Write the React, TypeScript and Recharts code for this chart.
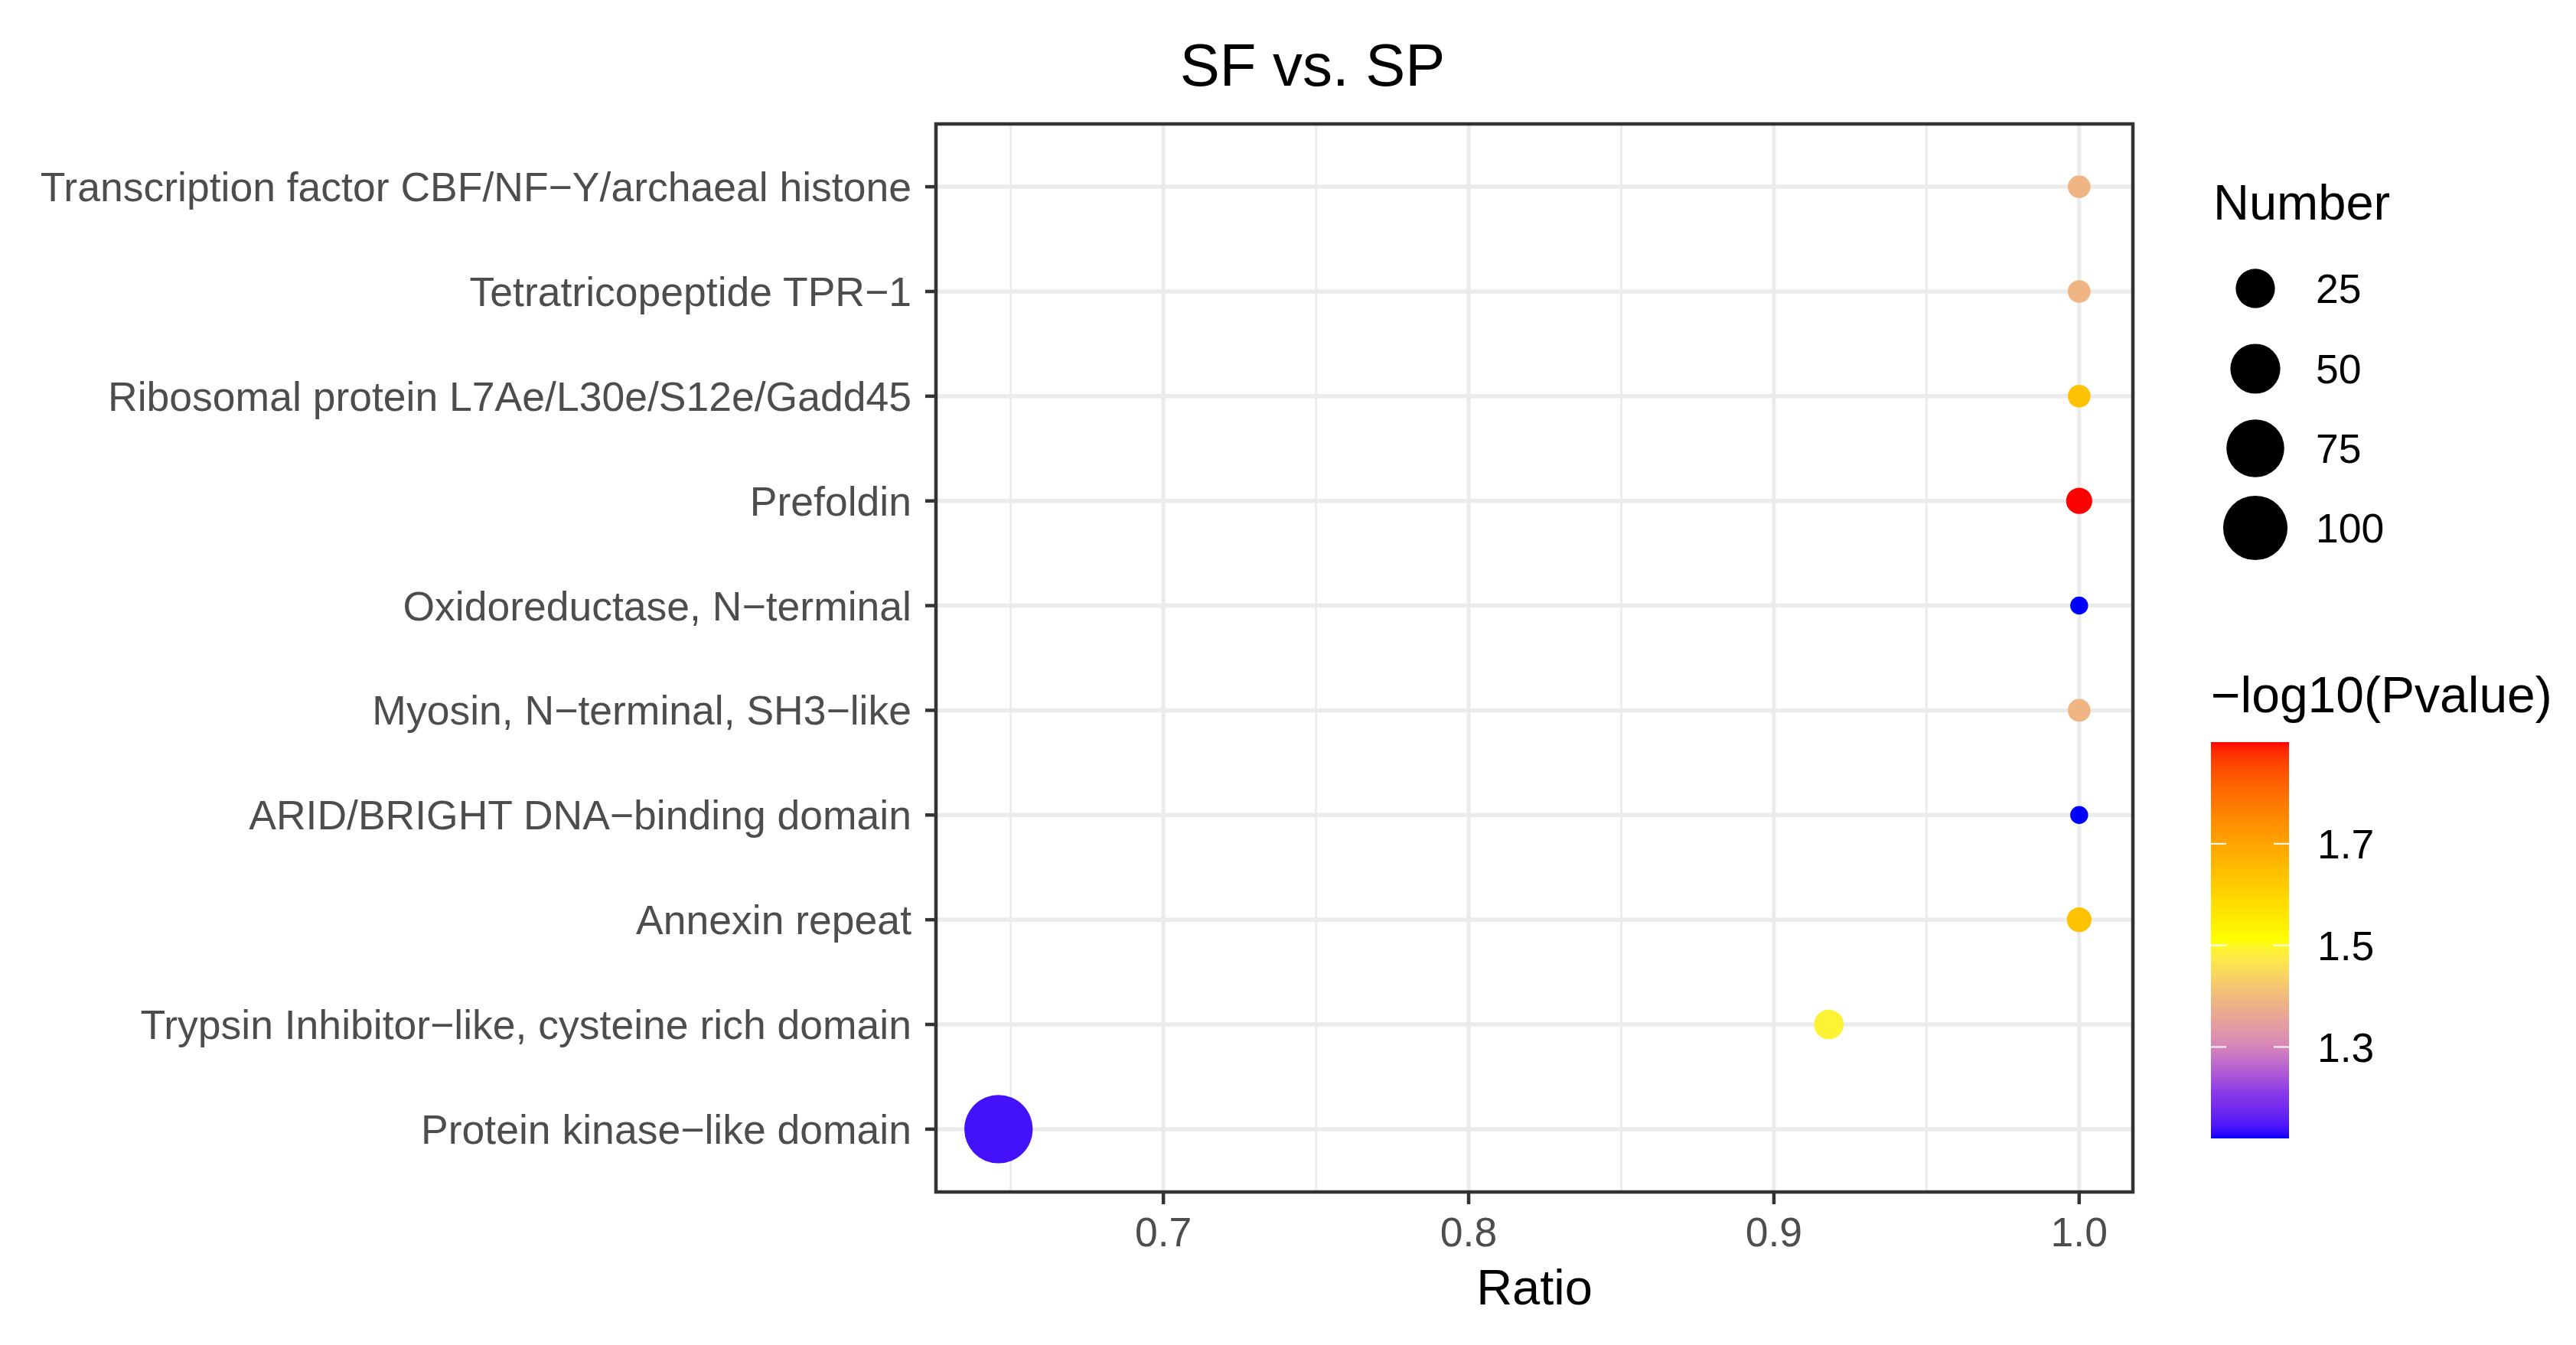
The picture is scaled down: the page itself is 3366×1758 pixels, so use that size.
import React from 'react';
import { ScatterChart, Scatter, XAxis, YAxis, CartesianGrid, ReferenceArea } from 'recharts';

// ---- data (bottom to top, as ggplot orders a discrete y axis) ----
const terms = [
  'Protein kinase\u2212like domain',
  'Trypsin Inhibitor\u2212like, cysteine rich domain',
  'Annexin repeat',
  'ARID/BRIGHT DNA\u2212binding domain',
  'Myosin, N\u2212terminal, SH3\u2212like',
  'Oxidoreductase, N\u2212terminal',
  'Prefoldin',
  'Ribosomal protein L7Ae/L30e/S12e/Gadd45',
  'Tetratricopeptide TPR\u22121',
  'Transcription factor CBF/NF\u2212Y/archaeal histone',
];
const ratios = [0.646, 0.918, 1.0, 1.0, 1.0, 1.0, 1.0, 1.0, 1.0, 1.0];
const numbers = [117, 11, 7, 5, 6, 5, 8, 6, 6, 6];
const pvalues = [1.14, 1.49, 1.64, 1.12, 1.39, 1.12, 1.9, 1.64, 1.39, 1.39];

const xDomain = [0.6255, 1.0176];
const xTicks = [0.7, 0.8, 0.9, 1.0];
const xMinorTicks = [0.65, 0.75, 0.85, 0.95];
const sizeLegendValues = [25, 50, 75, 100];
const colorLegendTicks = [1.3, 1.5, 1.7];
// colour ramp stops (position in 0..1 of the -log10(P) range, colour)
const paletteStops = [0, 0.12, 0.24, 0.345, 0.5, 1];
const paletteColors = ['#0000FF', '#8C3CE6', '#D98AB6', '#EFB482', '#FFFF00', '#FF0000'];

const rows = terms.map((t, i) => ({ idx: i, term: t, ratio: ratios[i], number: numbers[i], pvalue: pvalues[i] }));

// ---- scales (ggplot-like) ----
const W = 3366;
const H = 1758;
const FONT = '"Liberation Sans", Arial, Helvetica, sans-serif';

const nMin = Math.min(...numbers);
const nMax = Math.max(...numbers);
const RAD_MIN = 11.7;
const RAD_MAX = 44.7;
const radiusOf = (n: number) => RAD_MIN + (RAD_MAX - RAD_MIN) * Math.sqrt(Math.max(0, (n - nMin) / (nMax - nMin)));

const pMin = Math.min(...pvalues);
const pMax = Math.max(...pvalues);

function toLin(c: number) { c /= 255; return c <= 0.04045 ? c / 12.92 : Math.pow((c + 0.055) / 1.055, 2.4); }
function fromLin(c: number) {
  const v = c <= 0.0031308 ? 12.92 * c : 1.055 * Math.pow(c, 1 / 2.4) - 0.055;
  return Math.round(Math.max(0, Math.min(1, v)) * 255);
}
function hexToLab(hex: string) {
  const r = toLin(parseInt(hex.slice(1, 3), 16));
  const g = toLin(parseInt(hex.slice(3, 5), 16));
  const b = toLin(parseInt(hex.slice(5, 7), 16));
  const X = (0.4124564 * r + 0.3575761 * g + 0.1804375 * b) / 0.95047;
  const Y = 0.2126729 * r + 0.7151522 * g + 0.072175 * b;
  const Z = (0.0193339 * r + 0.119192 * g + 0.9503041 * b) / 1.08883;
  const f = (t: number) => (t > 0.008856 ? Math.cbrt(t) : 7.787 * t + 16 / 116);
  const fx = f(X), fy = f(Y), fz = f(Z);
  return [116 * fy - 16, 500 * (fx - fy), 200 * (fy - fz)];
}
function labToHex(L: number, a: number, b: number) {
  const fy = (L + 16) / 116;
  const fx = fy + a / 500;
  const fz = fy - b / 200;
  const inv = (t: number) => (t * t * t > 0.008856 ? t * t * t : (t - 16 / 116) / 7.787);
  const X = inv(fx) * 0.95047, Y = inv(fy), Z = inv(fz) * 1.08883;
  const r = 3.2404542 * X - 1.5371385 * Y - 0.4985314 * Z;
  const g = -0.969266 * X + 1.8760108 * Y + 0.041556 * Z;
  const bb = 0.0556434 * X - 0.2040259 * Y + 1.0572252 * Z;
  const h = (v: number) => fromLin(v).toString(16).padStart(2, '0');
  return '#' + h(r) + h(g) + h(bb);
}
const paletteLab = paletteColors.map(hexToLab);
function colorAt(t: number) {
  const tt = Math.max(0, Math.min(1, t));
  let seg = 0;
  while (seg < paletteStops.length - 2 && tt > paletteStops[seg + 1]) seg++;
  const s = (tt - paletteStops[seg]) / (paletteStops[seg + 1] - paletteStops[seg]);
  const a = paletteLab[seg], b = paletteLab[seg + 1];
  return labToHex(a[0] + (b[0] - a[0]) * s, a[1] + (b[1] - a[1]) * s, a[2] + (b[2] - a[2]) * s);
}
const colorOf = (p: number) => colorAt((p - pMin) / (pMax - pMin));

// ---- plot geometry ----
const PANEL_LEFT = 1223;
const PANEL_TOP = 162;
const PANEL_RIGHT = 2787;
const PANEL_BOTTOM = 1558;

const DotShape = (props: any) => {
  const { cx, cy, payload } = props;
  if (cx == null || cy == null) return null;
  return <circle cx={cx} cy={cy} r={radiusOf(payload.number)} fill={colorOf(payload.pvalue)} />;
};

const yTicks = terms.map((_, i) => i);

// colour bar geometry
const CB_X = 2889;
const CB_W = 102;
const CB_TOP = 970;
const CB_BOTTOM = 1488;
const cbY = (v: number) => CB_BOTTOM - ((v - pMin) / (pMax - pMin)) * (CB_BOTTOM - CB_TOP);
const gradStops = Array.from({ length: 101 }, (_, i) => i / 100);

const sizeLegendY = [377, 482, 586, 690];
const AXIS_FONT = 53.5;

export default function App() {
  return (
    <div style={{ position: 'absolute', left: 0, top: 0, width: W, height: H, background: '#fff', fontFamily: FONT }}>
      <ScatterChart width={W} height={H} margin={{ top: PANEL_TOP, right: W - PANEL_RIGHT, bottom: 0, left: 0 }}>
        <CartesianGrid horizontal={false} verticalValues={xMinorTicks} stroke="#EBEBEB" strokeWidth={2.7} />
        <CartesianGrid horizontal={false} verticalValues={xTicks} stroke="#EBEBEB" strokeWidth={5} />
        <CartesianGrid vertical={false} horizontalValues={yTicks} stroke="#EBEBEB" strokeWidth={5.5} />
        <XAxis
          type="number"
          dataKey="ratio"
          domain={xDomain}
          ticks={xTicks}
          allowDataOverflow
          tickFormatter={(v: number) => v.toFixed(1)}
          height={H - PANEL_BOTTOM}
          axisLine={false}
          tickSize={16}
          tickMargin={17}
          tickLine={{ stroke: '#333333', strokeWidth: 4.5 }}
          tick={{ fontSize: AXIS_FONT, fill: '#4D4D4D', fontFamily: FONT }}
          interval={0}
        />
        <YAxis
          type="number"
          dataKey="idx"
          domain={[-0.6, terms.length - 1 + 0.6]}
          ticks={yTicks}
          allowDataOverflow
          tickFormatter={(i: number) => terms[i]}
          width={PANEL_LEFT}
          axisLine={false}
          tickSize={14}
          tickMargin={18}
          tickLine={{ stroke: '#333333', strokeWidth: 4.5 }}
          tick={{ fontSize: AXIS_FONT, fill: '#4D4D4D', fontFamily: FONT }}
          interval={0}
        />
        <Scatter data={rows} shape={DotShape} isAnimationActive={false} />
        <ReferenceArea
          x1={xDomain[0]}
          x2={xDomain[1]}
          y1={-0.6}
          y2={terms.length - 1 + 0.6}
          fill="none"
          fillOpacity={0}
          stroke="#333333"
          strokeWidth={4.5}
          ifOverflow="visible"
        />
      </ScatterChart>
      <svg width={W} height={H} style={{ position: 'absolute', left: 0, top: 0, pointerEvents: 'none' }} fontFamily={FONT}>
        <defs>
          <linearGradient id="cbgrad" x1="0" y1="1" x2="0" y2="0">
            {gradStops.map((s) => (
              <stop key={s} offset={s} stopColor={colorAt(s)} />
            ))}
          </linearGradient>
        </defs>
        <text x={1715} y={112} fontSize={78} textAnchor="middle" fill="#000">SF vs. SP</text>
        <text x={(PANEL_LEFT + PANEL_RIGHT) / 2} y={1705} fontSize={65} textAnchor="middle" fill="#000">Ratio</text>

        <text x={2892} y={287} fontSize={65} fill="#000">Number</text>
        {sizeLegendValues.map((v, i) => (
          <g key={v}>
            <circle cx={2947} cy={sizeLegendY[i]} r={radiusOf(v)} fill="#000" />
            <text x={3026} y={sizeLegendY[i]} dy="0.36em" fontSize={AXIS_FONT} fill="#000">{v}</text>
          </g>
        ))}

        <text x={2889} y={931} fontSize={66} fill="#000">{'\u2212log10(Pvalue)'}</text>
        <rect x={CB_X} y={CB_TOP} width={CB_W} height={CB_BOTTOM - CB_TOP} fill="url(#cbgrad)" />
        {colorLegendTicks.map((v) => (
          <g key={v}>
            <line x1={CB_X} x2={CB_X + 20} y1={cbY(v)} y2={cbY(v)} stroke="#fff" strokeWidth={2} />
            <line x1={CB_X + CB_W - 20} x2={CB_X + CB_W} y1={cbY(v)} y2={cbY(v)} stroke="#fff" strokeWidth={2} />
            <text x={3028} y={cbY(v)} dy="0.36em" fontSize={AXIS_FONT} fill="#000">{v.toFixed(1)}</text>
          </g>
        ))}
      </svg>
    </div>
  );
}
